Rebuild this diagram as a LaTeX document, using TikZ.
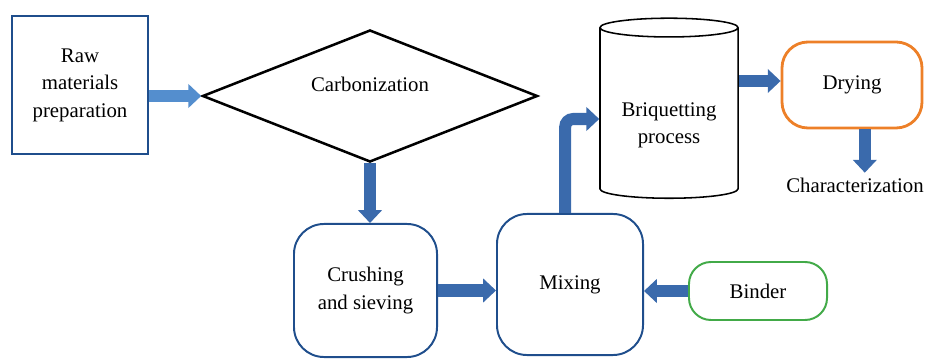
\documentclass[tikz,border=0pt]{standalone}
\usepackage{fontspec}
\setmainfont{Liberation Serif}
\usetikzlibrary{shapes.geometric,arrows.meta}
\definecolor{boxblue}{RGB}{31,78,140}
\definecolor{flowblue}{RGB}{58,106,172}
\definecolor{lightflow}{RGB}{84,142,206}
\definecolor{dryorange}{RGB}{237,128,40}
\definecolor{bindgreen}{RGB}{66,170,72}
\begin{document}
\begin{tikzpicture}[
    x=0.025cm, y=-0.025cm,
    font=\fontsize{14.8}{19.5}\selectfont,
    stage/.style = {rectangle, draw=boxblue, line width=1.4pt, rounded corners=7.5mm, align=center, inner sep=0pt},
    rawbox/.style = {rectangle, draw=boxblue, line width=2.1pt, align=center, minimum width=34mm, minimum height=34.5mm},
    decision/.style = {diamond, draw=black, line width=1.8pt, inner sep=0pt, minimum width=83.75mm, minimum height=33mm},
    drum/.style = {cylinder, shape border rotate=90, aspect=0.18, draw=black, line width=1.1pt, minimum width=34.5mm, minimum height=45mm},
    flow/.style = {draw=flowblue, line width=3mm, -{Triangle[length=3.2mm, width=5.8mm]}, rounded corners=2mm}
]
    \useasboundingbox (0,0) rectangle (928,360);

    % Nodes
    \node [rawbox] (raw) at (80,85) {Raw\\materials\\preparation};
    \node [decision] (carb) at (370,96) {\raisebox{1mm}[0pt][0pt]{Carbonization}};
    \node [stage, minimum width=35.75mm, minimum height=33.25mm] (crush) at (365.5,290.5) {Crushing\\and sieving};
    \node [stage, minimum width=36.5mm, minimum height=35.25mm] (mix) at (570,284.5) {Mixing};
    \node [drum] (briq) at (669,115) {\raisebox{-3.6mm}[0pt][0pt]{\begin{tabular}{@{}c@{}}Briquetting\\process\end{tabular}}};
    \node [stage, draw=dryorange, line width=2pt, rounded corners=6.5mm, minimum width=35mm, minimum height=21.5mm] (dry) at (852,85) {Drying};
    \node (char) at (855,185) {Characterization};
    \node [stage, draw=bindgreen, rounded corners=5.5mm, minimum width=34.5mm, minimum height=14.5mm] (bind) at (758,291) {Binder};

    % Edges
    \path [flow, draw=lightflow] (raw.east |- carb.west) -- (carb.west);
    \path [flow] (carb.south) -- (carb.south |- crush.north);
    \path [flow] (crush.east) -- (crush.east -| mix.west);
    \path [flow] ([xshift=-1.2mm]mix.north) |- ([yshift=-1mm]briq.west);
    \path [flow] ([yshift=1mm]briq.east |- dry.west) -- ([yshift=1mm]dry.west);
    \path [flow] ([xshift=3.2mm]dry.south) -- ([xshift=3.2mm]dry.south |- char.north);
    \path [flow] (bind.west) -- (bind.west -| mix.east);

\end{tikzpicture}
\end{document}
